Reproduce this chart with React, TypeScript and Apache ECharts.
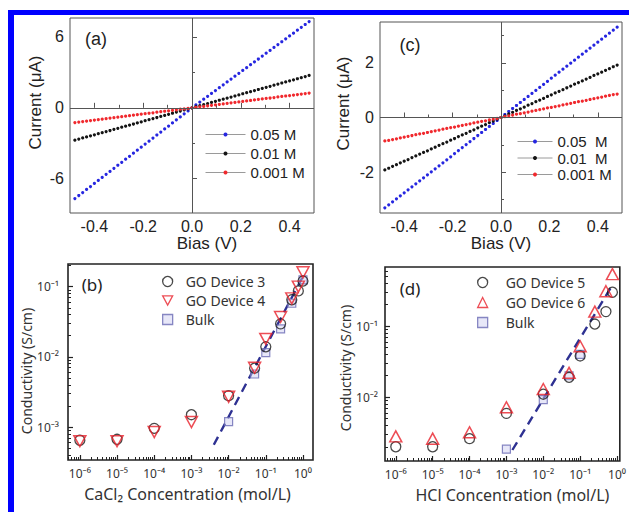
import React, { useEffect, useRef } from 'react';
import * as echarts from 'echarts';

// ---------- data: panels (a) and (c), I-V sweeps ----------
const biasV = [-0.48,-0.464,-0.448,-0.432,-0.416,-0.4,-0.384,-0.368,-0.352,-0.336,-0.32,-0.304,-0.288,-0.272,-0.256,-0.24,-0.224,-0.208,-0.192,-0.176,-0.16,-0.144,-0.128,-0.112,-0.096,-0.08,-0.064,-0.048,-0.032,-0.016,0,0.016,0.032,0.048,0.064,0.08,0.096,0.112,0.128,0.144,0.16,0.176,0.192,0.208,0.224,0.24,0.256,0.272,0.288,0.304,0.32,0.336,0.352,0.368,0.384,0.4,0.416,0.432,0.448,0.464,0.48];

const currentA_005 = [-7.68,-7.42,-7.17,-6.91,-6.66,-6.40,-6.14,-5.89,-5.63,-5.38,-5.12,-4.86,-4.61,-4.35,-4.10,-3.84,-3.58,-3.33,-3.07,-2.82,-2.56,-2.30,-2.05,-1.79,-1.54,-1.28,-1.02,-0.77,-0.51,-0.26,0,0.24,0.49,0.73,0.97,1.22,1.46,1.70,1.95,2.19,2.43,2.68,2.92,3.16,3.40,3.65,3.89,4.13,4.38,4.62,4.86,5.11,5.35,5.59,5.84,6.08,6.32,6.57,6.81,7.05,7.30];
const currentA_001 = [-2.74,-2.64,-2.55,-2.46,-2.37,-2.28,-2.19,-2.10,-2.01,-1.92,-1.82,-1.73,-1.64,-1.55,-1.46,-1.37,-1.28,-1.19,-1.09,-1.00,-0.91,-0.82,-0.73,-0.64,-0.55,-0.46,-0.36,-0.27,-0.18,-0.09,0,0.09,0.18,0.27,0.36,0.46,0.55,0.64,0.73,0.82,0.91,1.00,1.09,1.19,1.28,1.37,1.46,1.55,1.64,1.73,1.82,1.92,2.01,2.10,2.19,2.28,2.37,2.46,2.55,2.64,2.74];
const currentA_0001 = [-1.25,-1.21,-1.16,-1.12,-1.08,-1.04,-1.00,-0.96,-0.92,-0.87,-0.83,-0.79,-0.75,-0.71,-0.67,-0.62,-0.58,-0.54,-0.50,-0.46,-0.42,-0.37,-0.33,-0.29,-0.25,-0.21,-0.17,-0.12,-0.08,-0.04,0,0.04,0.08,0.12,0.17,0.21,0.25,0.29,0.33,0.37,0.42,0.46,0.50,0.54,0.58,0.62,0.67,0.71,0.75,0.79,0.83,0.87,0.92,0.96,1.00,1.04,1.08,1.12,1.16,1.21,1.25];

const currentC_005 = [-3.31,-3.20,-3.09,-2.98,-2.87,-2.76,-2.65,-2.54,-2.43,-2.32,-2.21,-2.10,-1.99,-1.88,-1.77,-1.66,-1.55,-1.44,-1.32,-1.21,-1.10,-0.99,-0.88,-0.77,-0.66,-0.55,-0.44,-0.33,-0.22,-0.11,0,0.11,0.22,0.33,0.44,0.55,0.66,0.77,0.88,0.99,1.10,1.21,1.32,1.44,1.55,1.66,1.77,1.88,1.99,2.10,2.21,2.32,2.43,2.54,2.65,2.76,2.87,2.98,3.09,3.20,3.31];
const currentC_001 = [-1.92,-1.86,-1.79,-1.73,-1.66,-1.60,-1.54,-1.47,-1.41,-1.34,-1.28,-1.22,-1.15,-1.09,-1.02,-0.96,-0.90,-0.83,-0.77,-0.70,-0.64,-0.58,-0.51,-0.45,-0.38,-0.32,-0.26,-0.19,-0.13,-0.06,0,0.06,0.13,0.19,0.26,0.32,0.38,0.45,0.51,0.58,0.64,0.70,0.77,0.83,0.90,0.96,1.02,1.09,1.15,1.22,1.28,1.34,1.41,1.47,1.54,1.60,1.66,1.73,1.79,1.86,1.92];
const currentC_0001 = [-0.86,-0.84,-0.81,-0.78,-0.75,-0.72,-0.69,-0.66,-0.63,-0.60,-0.58,-0.55,-0.52,-0.49,-0.46,-0.43,-0.40,-0.37,-0.35,-0.32,-0.29,-0.26,-0.23,-0.20,-0.17,-0.14,-0.12,-0.09,-0.06,-0.03,0,0.03,0.06,0.09,0.12,0.14,0.17,0.20,0.23,0.26,0.29,0.32,0.35,0.37,0.40,0.43,0.46,0.49,0.52,0.55,0.58,0.60,0.63,0.66,0.69,0.72,0.75,0.78,0.81,0.84,0.86];

const legendA = ['0.05 M', '0.01 M', '0.001 M'];
const legendC = ['0.05  M', '0.01  M', '0.001 M'];

// ---------- data: panel (b), CaCl2 ----------
const concB = [1e-6, 1e-5, 1e-4, 1e-3, 1e-2, 0.05, 0.1, 0.25, 0.5, 0.75, 1];
const condGO3 = [6.5e-4, 6.7e-4, 9.6e-4, 1.5e-3, 2.8e-3, 6.9e-3, 0.0139, 0.0295, 0.065, 0.087, 0.12];
const condGO4 = [6.3e-4, 6.3e-4, 8.5e-4, 1.18e-3, 2.7e-3, 7.0e-3, 0.018, 0.037, 0.068, 0.10, 0.16];
const concBulkB = [1e-2, 0.05, 0.1, 0.25, 0.5, 1];
const condBulkB = [1.2e-3, 5.7e-3, 0.0115, 0.025, 0.058, 0.125];
const concFitB = [0.004, 1];
const condFitB = [5.6e-4, 0.14];

// ---------- data: panel (d), HCl ----------
const concD = [1e-6, 1e-5, 1e-4, 1e-3, 1e-2, 0.05, 0.1, 0.25, 0.5, 0.75];
const condGO5 = [2.0e-3, 2.0e-3, 2.6e-3, 5.9e-3, 0.011, 0.019, 0.038, 0.107, 0.16, 0.30];
const condGO6 = [2.8e-3, 2.6e-3, 3.2e-3, 7.2e-3, 0.013, 0.022, 0.052, 0.16, 0.31, 0.54];
const concBulkD = [1e-3, 1e-2, 0.05, 0.1];
const condBulkD = [1.85e-3, 9.2e-3, 0.02, 0.04];
const concFitD = [0.00145, 0.8];
const condFitD = [1.8e-3, 0.4];

// ---------- tick values ----------
const biasMajor = [-0.4, -0.2, 0, 0.2, 0.4];
const biasMinor = [-0.3, -0.1, 0.1, 0.3];
const curAMajor = [-6, 0, 6];
const curAMinor = [-3, 3];
const curCMajor = [-2, 0, 2];
const curCMinor = [-3, -1, 1, 3];
const decades = [-7, -6, -5, -4, -3, -2, -1, 0];
const logMajor = decades.map((e) => Math.pow(10, e));
const logMinor: number[] = [];
decades.forEach((e) => { for (let m = 2; m <= 9; m++) logMinor.push(m * Math.pow(10, e)); });

const F_TOP = '"Liberation Sans", Arial, sans-serif';
const F_BOT = '"Noto Sans", "DejaVu Sans", sans-serif';
const SUP: Record<string, string> = { '-': '⁻', '0': '⁰', '1': '¹', '2': '²', '3': '³', '4': '⁴', '5': '⁵', '6': '⁶', '7': '⁷', '8': '⁸', '9': '⁹' };
const logLabel = (v: number) => {
  const e = Math.log10(v);
  const r = Math.round(e);
  if (Math.abs(e - r) > 1e-6) return '';
  return '10' + String(r).split('').map((c) => SUP[c]).join('');
};

const pairs = (xs: number[], ys: number[]) => xs.map((x, i) => [x, ys[i]]);

function linAxes(grid: number, dim: 'x' | 'y', min: number, max: number, major: number[], minor: number[], fmt: (v: number) => string, name: string, nameGap: number, namePad: number[]) {
  const main: any = {
    type: 'value', gridIndex: grid, min, max,
    position: dim === 'x' ? 'bottom' : 'left',
    axisLine: { show: false },
    splitLine: { show: false },
    axisTick: { show: true, inside: true, length: 5, customValues: major, lineStyle: { color: '#555', width: 1 } },
    axisLabel: { customValues: major, formatter: fmt, fontFamily: F_TOP, fontSize: 16, color: '#222', margin: dim === 'x' ? 5 : 6 },
    name, nameLocation: 'middle', nameGap,
    nameTextStyle: { fontFamily: F_TOP, fontSize: 17, color: '#222', padding: namePad },
  };
  const sub: any = {
    type: 'value', gridIndex: grid, min, max,
    position: dim === 'x' ? 'bottom' : 'left',
    axisLine: { show: false }, splitLine: { show: false }, axisLabel: { show: false },
    axisTick: { show: true, inside: true, length: 3, customValues: minor, lineStyle: { color: '#555', width: 1 } },
  };
  return [main, sub];
}

function logAxes(grid: number, dim: 'x' | 'y', min: number, max: number, name: string, nameGap: number, nameSize: number, namePad: number[], labelMargin: number) {
  const main: any = {
    type: 'log', logBase: 10, gridIndex: grid, min, max,
    position: dim === 'x' ? 'bottom' : 'left',
    axisLine: { show: false }, splitLine: { show: false }, minorTick: { show: false },
    axisTick: { show: true, inside: true, length: 5, customValues: logMajor, lineStyle: { color: '#222', width: 1.2 } },
    axisLabel: { formatter: logLabel, fontFamily: F_BOT, fontSize: 12, color: '#333', margin: labelMargin },
    name, nameLocation: 'middle', nameGap,
    nameTextStyle: { fontFamily: F_BOT, fontSize: nameSize, color: '#333', padding: namePad },
  };
  const sub: any = {
    type: 'log', logBase: 10, gridIndex: grid, min, max,
    position: dim === 'x' ? 'bottom' : 'left',
    axisLine: { show: false }, splitLine: { show: false }, axisLabel: { show: false },
    axisTick: { show: true, inside: true, length: 3, customValues: logMinor, lineStyle: { color: '#222', width: 1 } },
  };
  return [main, sub];
}

const BLUE = '#2626e0';
const BLACK = '#141414';
const RED = '#f0282d';

function ivSeries(name: string, ys: number[], color: string, axis: number, zero: boolean) {
  const s: any = {
    type: 'line', name, xAxisIndex: axis, yAxisIndex: axis,
    data: pairs(biasV, ys), symbol: 'circle', symbolSize: 3.2, showSymbol: true,
    lineStyle: { width: 0, opacity: 0 }, itemStyle: { color }, silent: true, z: 3,
  };
  if (zero) {
    s.markLine = {
      silent: true, symbol: 'none', label: { show: false },
      lineStyle: { color: '#555', width: 1, type: 'solid' },
      data: [{ xAxis: 0 }, { yAxis: 0 }],
    };
  }
  return s;
}

const openMark = (name: string, xs: number[], ys: number[], axis: number, symbol: string, size: any, rotate: number, border: string, fill: string, bw: number) => ({
  type: 'scatter', name, xAxisIndex: axis, yAxisIndex: axis,
  data: pairs(xs, ys), symbol, symbolSize: size, symbolRotate: rotate,
  itemStyle: { color: fill, borderColor: border, borderWidth: bw }, z: 4, silent: true,
});

const fitLine = (xs: number[], ys: number[], axis: number) => ({
  type: 'line', name: 'fit' + axis, xAxisIndex: axis, yAxisIndex: axis,
  data: pairs(xs, ys), symbol: 'none', silent: true, z: 2,
  lineStyle: { color: '#2e3192', width: 2.4, type: [9, 6] },
});

export default function App() {
  const ref = useRef<HTMLDivElement>(null);
  useEffect(() => {
    document.body.style.margin = '0';
    if (!ref.current) return;
    const chart = echarts.init(ref.current, undefined, { renderer: 'svg' });

    const xA = linAxes(0, 'x', -0.5, 0.5, biasMajor, biasMinor, (v) => v.toFixed(1), 'Bias (V)', 14, [0, 0, 0, 30]);
    const xC = linAxes(1, 'x', -0.5, 0.5, biasMajor, biasMinor, (v) => v.toFixed(1), 'Bias (V)', 14, [0, 0, 0, 0]);
    const yA = linAxes(0, 'y', -8.9, 7.6, curAMajor, curAMinor, (v) => String(v), 'Current (μA)', 26, [0, 0, 0, 26]);
    const yC = linAxes(1, 'y', -3.5, 3.5, curCMajor, curCMinor, (v) => String(v), 'Current (μA)', 28, [0, 0, 0, 28]);
    const xB = logAxes(2, 'x', 4.8e-7, 1.86, 'CaCl₂ Concentration (mol/L)', 26, 16, [0, 6, 0, 0], 7);
    const yB = logAxes(2, 'y', 3.4e-4, 0.21, 'Conductivity (S/cm)', 34, 14, [0, 18, 0, 0], 9);
    const xD = logAxes(3, 'x', 5.1e-7, 1.19, 'HCl Concentration (mol/L)', 26, 16, [0, 0, 0, 20], 7);
    const yD = logAxes(3, 'y', 1.26e-3, 0.68, 'Conductivity (S/cm)', 33, 14, [0, 8, 0, 0], 7);

    // axis index order: 0 a-main,1 a-minor,2 c-main,3 c-minor,4 b-main,5 b-minor,6 d-main,7 d-minor
    const xAxis = [...xA, ...xC, ...xB, ...xD];
    const yAxis = [...yA, ...yC, ...yB, ...yD];

    const fmt = (n: string) => n.split('|')[1];
    const topLegend = (left: number, top: number, w: number, gap: number, names: string[]) => ({
      left, top, orient: 'vertical', padding: 0, itemWidth: w, itemHeight: 5, itemGap: gap,
      selectedMode: false, data: names, formatter: fmt,
      textStyle: { fontFamily: F_TOP, fontSize: 15, color: '#222', lineHeight: 15 },
      lineStyle: { color: '#9a9a9a', width: 1, opacity: 1, type: 'solid' },
    });
    const botLegend = (left: number, top: number, gap: number, textPad: number, items: any[]) => ({
      left, top, orient: 'vertical', padding: 0, itemWidth: 10, itemHeight: 10, itemGap: gap,
      selectedMode: false, data: items, formatter: fmt, symbolKeepAspect: true,
      textStyle: { fontFamily: F_BOT, fontSize: 14, color: '#333', lineHeight: 15, padding: [0, 0, 0, textPad] },
      itemStyle: { borderWidth: 1.3 },
    });

    const option: any = {
      animation: false,
      textStyle: { fontFamily: F_TOP },
      grid: [
        { left: 70, top: 18, width: 244, height: 195, show: true, borderColor: '#555', borderWidth: 1, backgroundColor: 'transparent' },
        { left: 380, top: 22, width: 242, height: 191, show: true, borderColor: '#555', borderWidth: 1, backgroundColor: 'transparent' },
        { left: 68, top: 264, width: 245, height: 196, show: true, borderColor: '#222', borderWidth: 1.6, backgroundColor: 'transparent' },
        { left: 385, top: 267, width: 240, height: 194, show: true, borderColor: '#222', borderWidth: 1.6, backgroundColor: 'transparent' },
      ],
      xAxis, yAxis,
      legend: [
        topLegend(205, 127, 40, 4, legendA.map((n) => 'a|' + n)),
        topLegend(517, 134, 35, 1.5, legendC.map((n) => 'c|' + n)),
        botLegend(162, 274, 4, 8, [
          { name: 'b|GO Device 3' },
          { name: 'b|GO Device 4', icon: 'path://M0,0L12,0L6,11Z' },
          { name: 'b|Bulk' },
        ]),
        botLegend(477, 275, 5, 13, [
          { name: 'd|GO Device 5' },
          { name: 'd|GO Device 6' },
          { name: 'd|Bulk' },
        ]),
      ],
      series: [
        ivSeries('a|' + legendA[0], currentA_005, BLUE, 0, true),
        ivSeries('a|' + legendA[1], currentA_001, BLACK, 0, false),
        ivSeries('a|' + legendA[2], currentA_0001, RED, 0, false),
        ivSeries('c|' + legendC[0], currentC_005, BLUE, 2, true),
        ivSeries('c|' + legendC[1], currentC_001, BLACK, 2, false),
        ivSeries('c|' + legendC[2], currentC_0001, RED, 2, false),
        fitLine(concFitB, condFitB, 4),
        openMark('b|Bulk', concBulkB, condBulkB, 4, 'rect', 8, 0, '#6a6ab4', 'rgba(205,205,240,0.6)', 1.2),
        openMark('b|GO Device 3', concB, condGO3, 4, 'circle', 10, 0, '#1a1a1a', 'rgba(0,0,0,0)', 1.3),
        openMark('b|GO Device 4', concB, condGO4, 4, 'triangle', [12, 11], 180, '#e8202a', 'rgba(0,0,0,0)', 1.5),
        fitLine(concFitD, condFitD, 6),
        openMark('d|Bulk', concBulkD, condBulkD, 6, 'rect', 8, 0, '#6a6ab4', 'rgba(205,205,240,0.6)', 1.2),
        openMark('d|GO Device 5', concD, condGO5, 6, 'circle', 10, 0, '#1a1a1a', 'rgba(0,0,0,0)', 1.3),
        openMark('d|GO Device 6', concD, condGO6, 6, 'triangle', [12, 11], 0, '#e8202a', 'rgba(0,0,0,0)', 1.5),
      ],
      graphic: [
        { type: 'rect', left: 8, top: 10, shape: { width: 621, height: 5 }, style: { fill: '#0000ff' }, silent: true },
        { type: 'rect', left: 8, top: 10, shape: { width: 6, height: 502 }, style: { fill: '#0000ff' }, silent: true },
        { type: 'text', x: 96, y: 39, style: { text: '(a)', font: '18px "Liberation Sans", Arial, sans-serif', fill: '#222', align: 'center', verticalAlign: 'middle' } },
        { type: 'text', x: 410, y: 45, style: { text: '(c)', font: '18px "Liberation Sans", Arial, sans-serif', fill: '#222', align: 'center', verticalAlign: 'middle' } },
        { type: 'text', x: 92, y: 284, style: { text: '(b)', font: '17px "Noto Sans", sans-serif', fill: '#222', align: 'center', verticalAlign: 'middle' } },
        { type: 'text', x: 410, y: 288, style: { text: '(d)', font: '17px "Noto Sans", sans-serif', fill: '#222', align: 'center', verticalAlign: 'middle' } },
      ],
    };
    chart.setOption(option);
    return () => chart.dispose();
  }, []);
  return <div ref={ref} style={{ width: 629, height: 512 }} />;
}
